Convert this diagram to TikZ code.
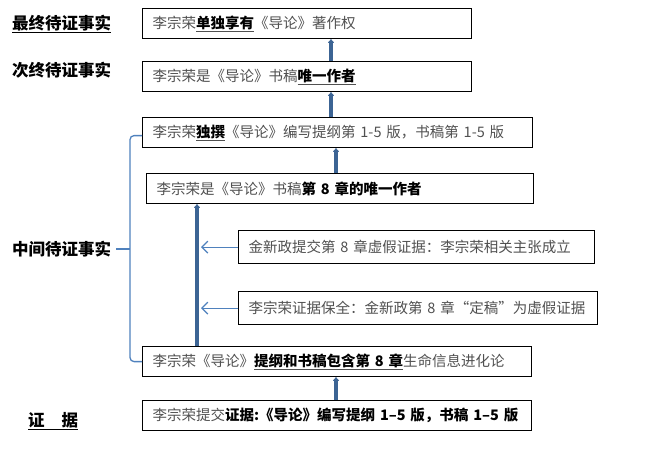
\documentclass[tikz,border=0pt]{standalone}
\usepackage{fontspec}
\setmainfont{Noto Sans CJK SC}
\usetikzlibrary{arrows.meta}

\definecolor{linkblue}{HTML}{3C6494}
\definecolor{braceblue}{HTML}{4F81BD}
\definecolor{plaingray}{HTML}{505050}

% 重点文字：加粗、黑色；带下划线
\newcommand{\zd}[1]{{\bfseries\color{black}#1}}
\newcommand{\zdu}[1]{\underline{\zd{#1}}}

\tikzset{
  fact/.style={draw=black, line width=1.2pt, anchor=north west,
    inner xsep=10pt, inner ysep=0pt, minimum height=30pt,
    text width=#1, align=left, text=plaingray,
    font=\fontsize{14.5}{17}\selectfont,
    execute at begin node=\hbox\bgroup, execute at end node=\egroup},
  tag/.style={anchor=west, inner sep=0pt, font=\fontsize{16.5}{19}\selectfont\bfseries},
  link/.style={draw=linkblue, line width=4.6pt, -{Latex[length=4pt,width=7.5pt,round]}},
  hint/.style={draw=braceblue, line width=1.2pt, -{Straight Barb[length=6pt,width=12pt]}},
  bracelink/.style={draw=braceblue, line width=1.3pt, rounded corners=4pt},
}

\begin{document}
\begin{tikzpicture}[x=1pt, y=-1pt]
  \useasboundingbox (0,0) rectangle (663,450);

  % 左侧层级标签
  \node[tag] (lzz) at (12,24) {\underline{最终待证事实}};
  \node[tag] (lcz) at (12,70) {次终待证事实};
  \node[tag] (lzj) at (12,249) {中间待证事实};
  \node[tag] (lzy) at (28,421) {\underline{证\hspace{17pt}据}};

  % 待证事实方框（自上而下）
  \node[fact=309pt] (f1) at (142,8) {李宗荣\zdu{单独享有}《导论》著作权};
  \node[fact=309pt] (f2) at (142,61) {李宗荣是《导论》书稿\zdu{唯一作者}};
  \node[fact=370pt] (f3) at (142,117) {李宗荣\zdu{独撰}《导论》编写提纲第 1-5 版，书稿第 1-5 版};
  \node[fact=367pt] (f4) at (146,173) {李宗荣是《导论》书稿\zd{第 8 章的唯一作者}};
  \node[fact=336pt, minimum height=33pt] (e1) at (238,230) {金新政提交第 8 章虚假证据：李宗荣相关主张成立};
  \node[fact=339pt, minimum height=33pt] (e2) at (238,291) {李宗荣证据保全：金新政第 8 章“定稿”为虚假证据};
  \node[fact=369pt] (f5) at (142,346) {李宗荣《导论》\zdu{提纲和书稿包含第 8 章}生命信息进化论};
  \node[fact=369pt] (f6) at (142,400) {李宗荣提交\zd{证据:《导论》编写提纲 1–5 版，书稿 1–5 版}};

  % 连线所在的横坐标
  \coordinate (xa) at (331,0);
  \coordinate (xb) at (336,0);
  \coordinate (xc) at (197,0);
  \coordinate (xd) at (201,0);
  \coordinate (bk) at (130,249);

  % 粗连线（下层支撑上层）
  \draw[link] (f2.north -| xa) -- (f1.south -| xa);
  \draw[link] (f3.north -| xa) -- (f2.south -| xa);
  \draw[link] (f4.north -| xb) -- (f3.south -| xb);
  \draw[link] (f5.north -| xc) -- (f4.south -| xc);
  \draw[link] (f6.north -| xb) -- (f5.south -| xb);

  % 细箭头
  \draw[hint] (e1.west) -- (e1.west -| xd);
  \draw[hint] (e2.west) -- (e2.west -| xd);

  % 中间待证事实的括线
  \draw[bracelink] ([yshift=-3pt]f3.west) -| (bk) |- (f5.west);
  \draw[bracelink] ([xshift=5pt]lzj.east) -- (bk);
\end{tikzpicture}
\end{document}
